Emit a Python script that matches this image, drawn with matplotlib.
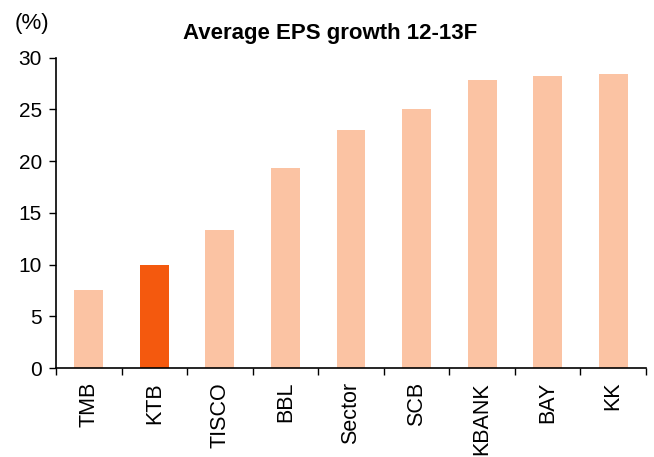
import matplotlib
matplotlib.use("Agg")
import matplotlib.pyplot as plt
import numpy as np

categories = ["TMB", "KTB", "TISCO", "BBL", "Sector", "SCB", "KBANK", "BAY", "KK"]
values = [7.5, 10.0, 13.3, 19.3, 23.0, 25.0, 27.8, 28.2, 28.4]
highlight = "KTB"

plt.rcParams['font.family'] = ['Liberation Sans', 'DejaVu Sans']

light = "#FBC3A3"
dark = "#F4590E"

fig = plt.figure(figsize=(6.54, 4.57), dpi=100)
L, R, B, T = 56, 646, 368, 57.7
ax = fig.add_axes([L/654, (457-B)/457, (R-L)/654, (B-T)/457])

x = np.arange(len(categories))
colors = [dark if c == highlight else light for c in categories]
ax.bar(x, values, width=0.44, color=colors)

ax.set_xlim(-0.5, len(categories) - 0.5)
ax.set_ylim(0, 30)
ax.set_yticks(np.arange(0, 31, 5))
ax.tick_params(axis='y', labelsize=15, direction='out', length=5, width=1, pad=5)
ax.set_xticks(x)
ax.set_xticklabels(categories, rotation=90, fontsize=15.5)
ax.tick_params(axis='x', length=0, pad=10)
ax.set_xticks(np.arange(-0.5, len(categories), 1), minor=True)
ax.tick_params(axis='x', which='minor', length=5, width=1, direction='out')

for s in ['top', 'right']:
    ax.spines[s].set_visible(False)
for s in ['left', 'bottom']:
    ax.spines[s].set_linewidth(1.2)

fig.text(15/654, 1 - 24/457, "(%)", fontsize=16, va='center', ha='left')
fig.text(330/654, 1 - 39/457, "Average EPS growth 12-13F", fontsize=16,
         fontweight='bold', va='baseline', ha='center')

fig.savefig("out.png", dpi=100)
